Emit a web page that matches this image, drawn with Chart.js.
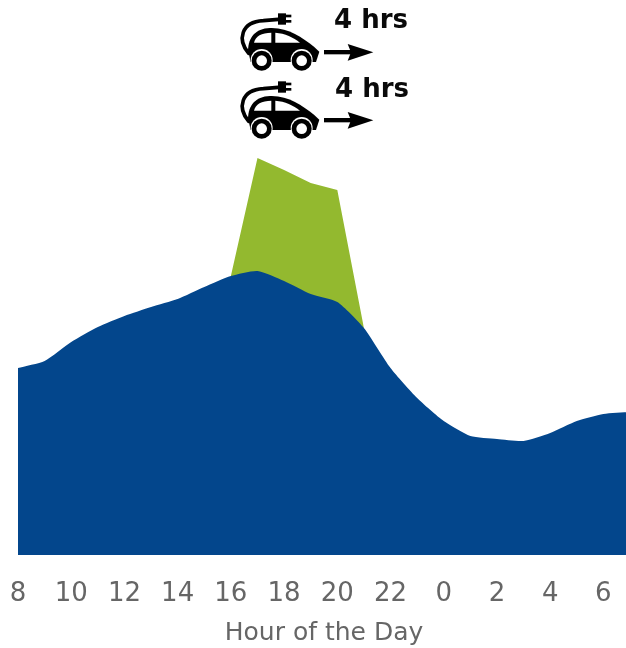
<!DOCTYPE html>
<html>
<head>
<meta charset="utf-8">
<style>
  html, body { margin: 0; padding: 0; background: #fff; overflow: hidden; }
  #wrap { width: 626px; height: 648px; overflow: hidden; }
</style>
<script src="https://cdn.jsdelivr.net/npm/chart.js@4"></script>
</head>
<body>
<div id="wrap"><canvas id="myChart" width="630" height="648"></canvas></div>
<script>
const hours = [8, 9, 10, 11, 12, 13, 14, 15, 16, 17, 18, 19, 20, 21, 22, 23, 0, 1, 2, 3, 4, 5, 6, 7];
const baseLoad = [187, 194, 213, 228, 239, 248, 256, 268, 279, 284, 274, 261, 253, 227, 187, 157, 134, 119, 116, 114, 122, 134, 141, 143];
const evLoad = [null, null, null, null, null, null, null, null, 279, 397, 385, 372, 365, 227, null, null, null, null, null, null, null, null, null, null];
const chargeLabel = '4 hrs';

function drawCar(ctx, x, y) {
  ctx.save();
  ctx.translate(x, y);
  ctx.scale(1 / 3, 1 / 3);
  ctx.fillStyle = '#000';
  ctx.strokeStyle = '#000';
  ctx.lineCap = 'round';

  // cable and plug
  ctx.lineWidth = 11;
  ctx.beginPath();
  ctx.moveTo(86, 160);
  ctx.bezierCurveTo(52, 120, 62, 66, 130, 62);
  ctx.lineTo(175, 58);
  ctx.stroke();
  ctx.fillRect(174, 40, 24, 34);
  ctx.fillRect(196, 44, 18, 8);
  ctx.fillRect(196, 60, 18, 8);

  // body
  ctx.beginPath();
  ctx.moveTo(92, 186);
  ctx.lineTo(84, 150);
  ctx.bezierCurveTo(86, 112, 105, 86, 150, 84);
  ctx.bezierCurveTo(205, 82, 245, 112, 282, 140);
  ctx.lineTo(298, 155);
  ctx.lineTo(288, 186);
  ctx.closePath();
  ctx.fill();

  // windows
  ctx.fillStyle = '#fff';
  ctx.beginPath();
  ctx.moveTo(102, 128);
  ctx.bezierCurveTo(106, 108, 125, 98, 154, 98);
  ctx.lineTo(154, 128);
  ctx.closePath();
  ctx.fill();
  ctx.beginPath();
  ctx.moveTo(166, 98);
  ctx.bezierCurveTo(195, 100, 220, 112, 240, 128);
  ctx.lineTo(166, 128);
  ctx.closePath();
  ctx.fill();

  // wheels
  [125, 245].forEach(cx => {
    ctx.fillStyle = '#fff';
    ctx.beginPath();
    ctx.arc(cx, 180, 33, 0, Math.PI * 2);
    ctx.fill();
    ctx.fillStyle = '#000';
    ctx.beginPath();
    ctx.arc(cx, 182, 30, 0, Math.PI * 2);
    ctx.fill();
    ctx.fillStyle = '#fff';
    ctx.beginPath();
    ctx.arc(cx, 182, 16, 0, Math.PI * 2);
    ctx.fill();
  });

  // arrow
  ctx.fillStyle = '#000';
  ctx.fillRect(312, 150, 85, 13);
  ctx.beginPath();
  ctx.moveTo(383, 132);
  ctx.lineTo(460, 157);
  ctx.lineTo(383, 182);
  ctx.lineTo(393, 157);
  ctx.closePath();
  ctx.fill();
  ctx.restore();
}

const chargingIcons = {
  id: 'chargingIcons',
  afterDraw(chart) {
    const ctx = chart.ctx;
    drawCar(ctx, 220, 0);
    drawCar(ctx, 220, 68);
    ctx.save();
    ctx.fillStyle = '#0a0a0a';
    ctx.font = 'bold 26px "DejaVu Sans"';
    ctx.textBaseline = 'middle';
    ctx.fillText(chargeLabel, 334, 21);
    ctx.fillText(chargeLabel, 335, 90);
    ctx.restore();
  }
};

new Chart(document.getElementById('myChart').getContext('2d'), {
  type: 'line',
  data: {
    labels: hours,
    datasets: [
      {
        label: 'Base load',
        data: baseLoad,
        backgroundColor: '#03468c',
        borderWidth: 0,
        pointRadius: 0,
        fill: 'origin',
        tension: 0.2,
        order: 1
      },
      {
        label: 'EV charging',
        data: evLoad,
        backgroundColor: '#93b92f',
        borderWidth: 0,
        pointRadius: 0,
        fill: 'origin',
        tension: 0,
        order: 2
      }
    ]
  },
  options: {
    responsive: false,
    animation: false,
    layout: { padding: { left: 18, right: 0, top: 0, bottom: 0 } },
    plugins: {
      legend: { display: false },
      title: { display: false },
      tooltip: { enabled: false }
    },
    scales: {
      x: {
        afterFit: scale => {
          scale.height = 93;
          scale.paddingLeft = 0;
          scale.paddingRight = 0;
        },
        grid: { display: false },
        border: { display: false },
        ticks: {
          autoSkip: false,
          maxRotation: 0,
          color: '#666',
          padding: 16,
          font: { family: '"DejaVu Sans"', size: 26 },
          callback: (v, i) => (i % 2 === 0 ? hours[i] : '')
        },
        title: {
          display: true,
          text: 'Hour of the Day',
          color: '#666',
          font: { family: '"DejaVu Sans"', size: 25 },
          padding: { top: 0, bottom: 0 }
        }
      },
      y: { display: false, min: 0, max: 555 }
    }
  },
  plugins: [chargingIcons]
});
</script>
</body>
</html>
